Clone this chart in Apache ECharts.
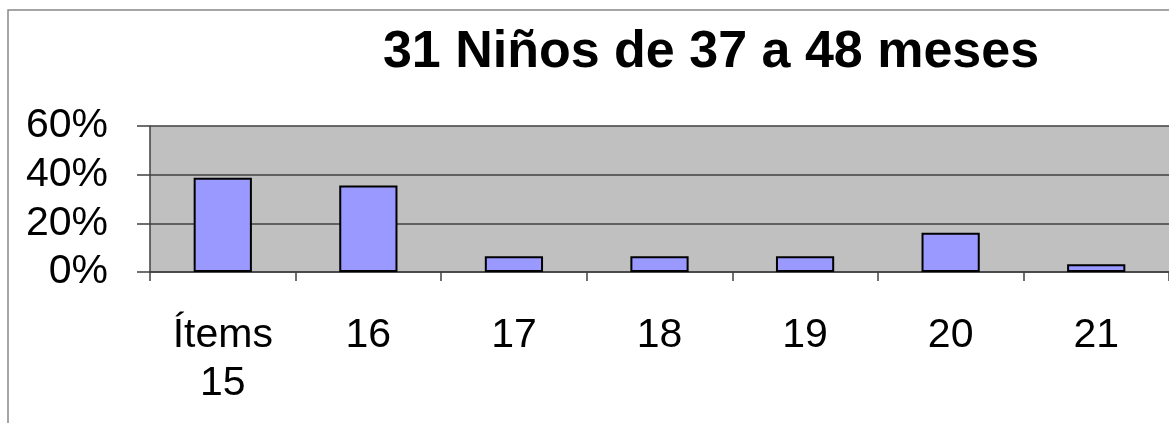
<!DOCTYPE html>
<html>
<head>
<meta charset="utf-8">
<script src="https://cdn.jsdelivr.net/npm/echarts@6/dist/echarts.min.js"></script>
<style>
  html, body { margin: 0; padding: 0; background: #fff; }
  #chart { width: 1169px; height: 423px; }
</style>
</head>
<body>
<div id="chart"></div>
<script>
// 类目与数值（百分比，31 名儿童）
var categories = ['Ítems\n15', '16', '17', '18', '19', '20', '21'];
var percents = [38.7, 35.5, 6.5, 6.5, 6.5, 16.1, 3.2];
var titleText = '31 Niños de 37 a 48 meses';

var chart = echarts.init(document.getElementById('chart'));
var fontFamily = '"Liberation Sans", Arial, sans-serif';

var option = {
	backgroundColor: '#fff',
	animation: false,
	title: {
		text: titleText,
		left: 706,
		top: 22,
		textAlign: 'center',
		textStyle: {
			fontFamily: fontFamily,
			fontSize: 52,
			fontWeight: 'bold',
			color: '#000'
		}
	},
	graphic: [{
		type: 'rect',
		silent: true,
		shape: { x: 8, y: 10, width: 1300, height: 600 },
		style: { fill: 'none', stroke: '#888', lineWidth: 1.5 }
	}],
	grid: {
		left: 150,
		top: 126,
		width: 1026,
		height: 146,
		show: true,
		backgroundColor: '#c0c0c0',
		borderWidth: 0
	},
	xAxis: {
		type: 'category',
		data: categories,
		axisLine: { show: true, lineStyle: { color: '#404040', width: 1.5 } },
		axisTick: { show: true, length: 9, lineStyle: { color: '#404040', width: 1.5 } },
		axisLabel: {
			margin: 40,
			color: '#000',
			fontFamily: fontFamily,
			fontSize: 41,
			lineHeight: 48
		}
	},
	yAxis: {
		type: 'value',
		min: 0,
		max: 60,
		interval: 20,
		axisLine: { show: true, lineStyle: { color: '#404040', width: 1.5 } },
		axisTick: { show: true, length: 13, lineStyle: { color: '#404040', width: 1.5 } },
		axisLabel: {
			margin: 42,
			color: '#000',
			fontFamily: fontFamily,
			fontSize: 41,
			formatter: '{value}%'
		},
		splitLine: { show: true, lineStyle: { color: '#404040', width: 1.5 } }
	},
	series: [{
		type: 'bar',
		data: percents,
		barWidth: '40%',
		itemStyle: {
			color: '#9999ff',
			borderColor: '#000',
			borderWidth: 2
		}
	}]
};

chart.setOption(option);
</script>
</body>
</html>
